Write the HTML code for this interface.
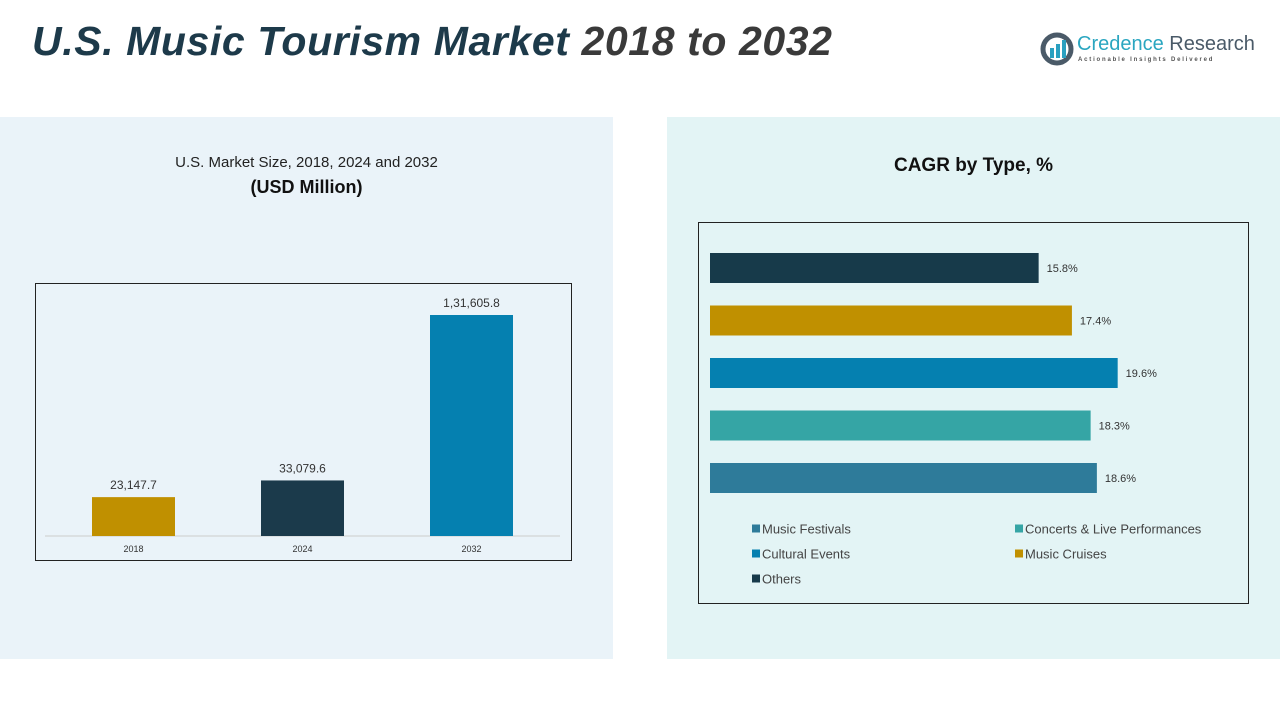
<!DOCTYPE html>
<html><head><meta charset="utf-8"><style>
body{margin:0;width:1280px;height:720px;background:#fff;font-family:"Liberation Sans",sans-serif;position:relative;overflow:hidden}
.abs{position:absolute}
</style></head><body>
<div class="abs" style="left:32px;top:18px;font-size:41px;font-weight:bold;font-style:italic;color:#1d3a4a;letter-spacing:0.6px;white-space:nowrap">U.S. Music Tourism Market <span style="color:#3a3a3a">2018 to 2032</span></div>
<div class="abs" style="left:1040px;top:32px;width:220px;height:40px">
<svg width="34" height="34" style="position:absolute;left:0;top:0"><circle cx="17" cy="17" r="14" fill="none" stroke="#4a5a68" stroke-width="5"/><rect x="10" y="16" width="4" height="10" fill="#2aa0c0"/><rect x="16" y="12" width="4" height="14" fill="#2aa0c0"/><rect x="22" y="8" width="4" height="18" fill="#2aa0c0"/></svg>
<div class="abs" style="left:37px;top:1px;font-size:20px;color:#2aa6c0;white-space:nowrap">Credence <span style="color:#4a5a68">Research</span></div>
<div class="abs" style="left:38px;top:25px;font-size:6px;letter-spacing:1.8px;color:#555;white-space:nowrap;font-weight:bold">Actionable Insights Delivered</div>
</div>
<div class="abs" style="left:0;top:117px;width:613px;height:542px;background:#eaf3f9"></div>
<div class="abs" style="left:667px;top:117px;width:613px;height:542px;background:#e3f4f5"></div>
<div class="abs" style="left:0;top:154px;width:613px;text-align:center;font-size:15px;color:#222">U.S. Market Size, 2018, 2024 and 2032</div>
<div class="abs" style="left:0;top:177px;width:613px;text-align:center;font-size:18px;font-weight:bold;color:#111">(USD Million)</div>
<div class="abs" style="left:667px;top:155px;width:613px;text-align:center;font-size:19px;font-weight:bold;color:#111">CAGR by Type, %</div>
<div class="abs" style="left:35px;top:283px;width:535px;height:276px;border:1px solid #222"></div>
<div class="abs" style="left:698px;top:222px;width:549px;height:380px;border:1px solid #222"></div>
<svg id="c1" class="abs" style="left:0;top:0" width="1280" height="720"></svg>
<script>
const years=["2018","2024","2032"];
const sizes=[23147.7,33079.6,131605.8];
const sizeLabels=["23,147.7","33,079.6","1,31,605.8"];
const types=["Others","Music Cruises","Cultural Events","Concerts & Live Performances","Music Festivals"];
const cagr=[15.8,17.4,19.6,18.3,18.6];
const cagrLabels=["15.8%","17.4%","19.6%","18.3%","18.6%"];
const typeColors=["#173a4a","#c09000","#0580b0","#35a5a5","#2e7b9a"];
const barColors=["#c09000","#1b3a4b","#0580b0"];
const NS="http://www.w3.org/2000/svg";
const svg=document.getElementById('c1');
function mk(t,a,txt){const e=document.createElementNS(NS,t);for(const k in a)e.setAttribute(k,a[k]);if(txt!==undefined)e.textContent=txt;svg.appendChild(e);return e;}
const base=536,maxH=221;
const y=v=>base-v/131605.8*maxH;
const xc=i=>133.5+i*169;
const bl=mk('line',{x1:45,x2:560,y1:base,y2:base,stroke:'#ccc'});


years.forEach((yr,i)=>{
 const r=mk('rect',{x:xc(i)-41.5,y:y(sizes[i]),width:83,height:base-y(sizes[i]),fill:barColors[i]});
 
 
 const l=mk('text',{x:xc(i),y:y(sizes[i])-8,'text-anchor':'middle','font-size':12,fill:'#333'},sizeLabels[i]);
 
 
 const t=mk('text',{x:xc(i),y:552,'text-anchor':'middle','font-size':9,fill:'#333'},yr);
 
 
});
const x0=710,px=20.8;
types.forEach((t,i)=>{
 const cy=268+i*52.5;
 const r=mk('rect',{x:x0,y:cy-15,width:cagr[i]*px,height:30,fill:typeColors[i]});
 
 
 const l=mk('text',{x:x0+cagr[i]*px+8,y:cy+4,'font-size':11,fill:'#333'},cagrLabels[i]);
 
 
});
const legOrder=[4,3,2,1,0];
legOrder.forEach((ti,k)=>{
 const lx=k%2==0?752:1015, ly=529+Math.floor(k/2)*25;
 const s=mk('rect',{x:lx,y:ly-4.5,width:8,height:8,fill:typeColors[ti]});
 
 
 const t=mk('text',{x:lx+10,y:ly+4.5,'font-size':13,fill:'#444'},types[ti]);
 
 
});
</script>
</body></html>
